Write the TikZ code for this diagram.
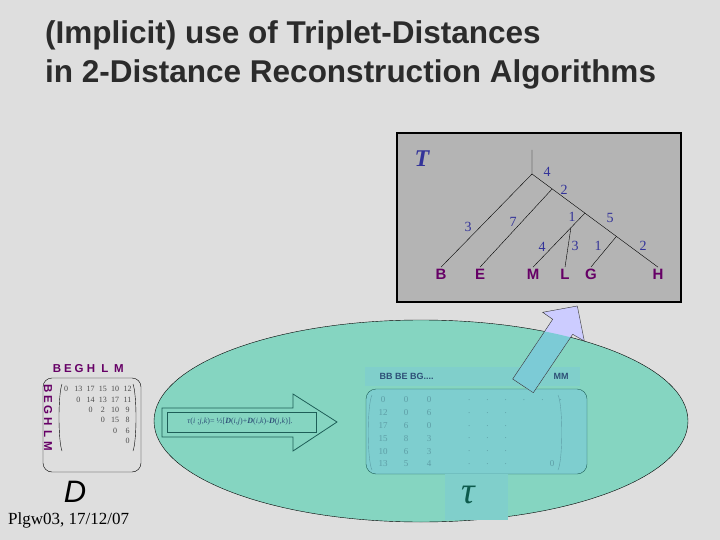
\documentclass[tikz,border=0pt]{standalone}
\usepackage{fontspec}
\setmainfont{Liberation Serif}
\setsansfont{Liberation Sans}
\usepackage{tikz}
\usetikzlibrary{calc}
\definecolor{bgGrey}{HTML}{DEDEDE}
\definecolor{boxGrey}{HTML}{B4B4B4}
\definecolor{ellTeal}{HTML}{85D5C1}
\definecolor{tauBox}{HTML}{7ECECF}
\definecolor{bandTeal}{HTML}{80CFCB}
\definecolor{numBlue}{HTML}{333399}
\definecolor{leafPurple}{HTML}{660066}
\definecolor{darkTeal}{HTML}{1E5E58}
\definecolor{lavender}{HTML}{CCCCFF}
\definecolor{arrowIn}{HTML}{7CCBD6}
\definecolor{tauText}{HTML}{5E9EA6}
\definecolor{headBlue}{HTML}{2E5077}
\definecolor{tauGreen}{HTML}{0D5B4D}
\definecolor{titleGrey}{HTML}{2B2B2B}
\tikzset{
  leaf/.style={font=\sffamily\bfseries\fontsize{15}{15}\selectfont, text=leafPurple, inner sep=1.5pt},
  edgelbl/.style={font=\fontsize{14}{14}\selectfont, text=numBlue, inner sep=0pt},
  dhead/.style={font=\sffamily\bfseries\fontsize{11.5}{11.5}\selectfont, text=leafPurple, inner sep=0pt},
  dval/.style={font=\fontsize{8}{8}\selectfont, text=black!70, inner sep=0pt},
  tval/.style={font=\fontsize{9}{9}\selectfont, text=tauText, inner sep=0pt},
  titleline/.style={anchor=base west, font=\sffamily\bfseries\fontsize{31.5}{31.5}\selectfont, text=titleGrey, inner sep=0pt}
}
\newcommand\uparrowpath{(512.7,379) -- (552.7,319.3) -- (542.7,312.3) -- (577.3,306) -- (584.3,341) -- (572.7,334.3) -- (533.3,392.7) -- cycle}

\begin{document}
\begin{tikzpicture}[x=1pt,y=-1pt]
  \fill[bgGrey] (0,0) rectangle (720,540);
  \useasboundingbox (0,0) rectangle (720,540);

  % title
  \node[titleline] (title1) at (45,44) {(Implicit) use of Triplet-Distances};
  \node[titleline] (title2) at (45,83) {in 2-Distance Reconstruction Algorithms};

  % tree T
  \draw[fill=boxGrey, line width=1.2pt] (397,133) rectangle (681,302);
  \node[font=\bfseries\itshape\fontsize{24}{24}\selectfont, text=numBlue] (tname) at (422,159) {T};
  \node[leaf] (B) at (441,274) {B};
  \node[leaf] (E) at (480,274) {E};
  \node[leaf] (M) at (533,274) {M};
  \node[leaf] (L) at (565,274) {L};
  \node[leaf] (G) at (591,274) {G};
  \node[leaf] (H) at (658,274) {H};
  \coordinate (top) at (532,150);
  \coordinate (root) at (532,174);
  \coordinate (n2) at ($(root)!0.16!(H.north)$);
  \coordinate (n3) at ($(root)!0.42!(H.north)$);
  \coordinate (n5) at ($(root)!0.67!(H.north)$);
  \coordinate (n4) at ($(n3)!0.27!(M.north)$);
  \draw (top) -- (root) -- (H.north);
  \draw (root) -- (B.north);
  \draw (n2) -- (E.north);
  \draw (n3) -- (M.north);
  \draw (n4) -- (L.north);
  \draw (n5) -- (G.north);
  \node[edgelbl] (w1) at (547,172) {4};
  \node[edgelbl] (w2) at (564,190) {2};
  \node[edgelbl] (w3) at (468,227) {3};
  \node[edgelbl] (w4) at (513,222) {7};
  \node[edgelbl] (w5) at (572,217) {1};
  \node[edgelbl] (w6) at (610,218) {5};
  \node[edgelbl] (w7) at (542,247) {4};
  \node[edgelbl] (w8) at (575,246) {3};
  \node[edgelbl] (w9) at (598,246) {1};
  \node[edgelbl] (w10) at (643,246) {2};

  % ellipse
  \draw[fill=ellTeal] (421,421) ellipse [x radius=267pt, y radius=101pt];

  % distance matrix D
  \draw[fill=bgGrey, rounded corners=9pt] (43,378) rectangle (141,472);
  \foreach \x/\l in {57/B,68/E,79/G,91/H,105/L,119/M}
    \node[dhead] (top\l) at (\x,369) {\l};
  \foreach \y/\l in {389/B,399/E,410/G,422/H,434/L,446/M}
    \node[dhead, rotate=-90] (side\l) at (48,\y) {\l};
  \foreach \r/\vals in {1/{0,13,17,15,10,12},2/{0,14,13,17,11},3/{0,2,10,9},4/{0,15,8},5/{0,6},6/{0}}
    \foreach \v [count=\c] in \vals
      \node[dval] (d\r-\c) at ({66+12.3*(\r+\c-2)},{389+10.4*(\r-1)}) {\v};
  \draw (62,384) .. controls (58,395) and (58,440) .. (62,451);
  \draw (133,384) .. controls (137,395) and (137,440) .. (133,451);
  \node[font=\sffamily\itshape\fontsize{31}{31}\selectfont] (dname) at (75,492) {D};
  \node[anchor=base west, font=\fontsize{17}{17}\selectfont, inner sep=0pt] (date) at (8,524) {Plgw03, 17/12/07};

  % formula arrow
  \draw[fill=ellTeal, draw=darkTeal, line width=0.8pt] (162,408) -- (293,408) -- (293,394) -- (337,422) -- (293,451) -- (293,437) -- (162,437) -- cycle;
  \draw[darkTeal, line width=1pt] (167,412) rectangle (316,432);
  \node[font=\fontsize{8}{8}\selectfont, text=headBlue, inner sep=0pt] (formula) at (240,422)
    {\textit{τ}(\textit{i} ;\textit{j},\textit{k})= ½[\textbf{\textit{D}}(\textit{i},\textit{j})+\textbf{\textit{D}}(\textit{i},\textit{k})-\textbf{\textit{D}}(\textit{j},\textit{k})].};

  % triplet matrix tau
  \fill[bandTeal] (365,367) rectangle (580,386);
  \node[anchor=west, font=\sffamily\bfseries\fontsize{9}{9}\selectfont, text=headBlue] (hdA) at (376,376) {BB BE BG....};
  \node[font=\sffamily\bfseries\fontsize{9}{9}\selectfont, text=headBlue] (hdB) at (561,376) {MM};
  \draw[darkTeal, fill=tauBox, rounded corners=10pt] (366,389) rectangle (587,474);
  \fill[bandTeal] (445,474) rectangle (508,520);
  \draw[tauText] (372,395) .. controls (367,405) and (367,460) .. (372,470);
  \draw[tauText] (558,395) .. controls (563,405) and (563,460) .. (558,470);
  \foreach \r/\vals in {1/{0,0,0,.,.,.,.,.,.},2/{12,0,6,.,.,.},3/{17,6,0,.,.,.},4/{15,8,3,.,.,.},5/{10,6,3,.,.,.},6/{13,5,4,.,.,.}}
    \foreach \v [count=\c] in \vals
      \node[tval] (t\r-\c) at ({ifthenelse(\c<4,{360+23*\c},{396+18.3*\c})},{400+12.8*(\r-1)}) {\v};
  \node[tval] (tlast) at (552,464) {0};
  \node[font=\itshape\fontsize{38}{38}\selectfont, text=tauGreen] (tau) at (468,495) {τ};

  % arrow up to the tree
  \fill[lavender] \uparrowpath;
  \begin{scope}
    \clip (421,421) ellipse [x radius=267pt, y radius=101pt];
    \fill[arrowIn] \uparrowpath;
  \end{scope}
  \draw[black!80] \uparrowpath;
\end{tikzpicture}
\end{document}
